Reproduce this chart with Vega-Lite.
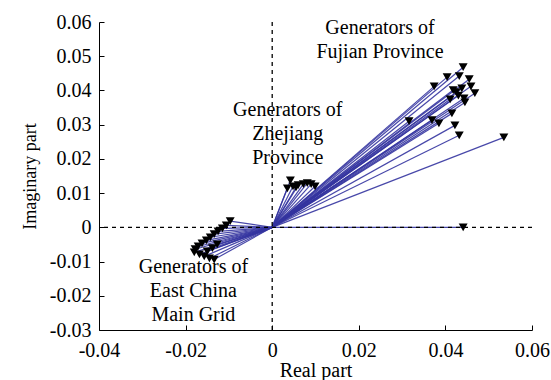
{
  "$schema": "https://vega.github.io/schema/vega-lite/v6.json",
  "width": 433,
  "height": 308,
  "autosize": {"type": "none"},
  "padding": {"left": 99, "top": 22, "right": 19, "bottom": 50},
  "background": "white",
  "config": {
    "view": {"stroke": null},
    "axis": {
      "grid": false,
      "domainColor": "black",
      "tickColor": "black",
      "labelColor": "black",
      "titleColor": "black",
      "labelFont": "Liberation Serif",
      "titleFont": "Liberation Serif",
      "labelFontSize": 20,
      "titleFontSize": 19,
      "titleFontWeight": "normal",
      "tickSize": -5,
      "domainWidth": 1,
      "tickWidth": 1,
      "labelOverlap": false,
      "labelFlush": false
    },
    "axisX": {"titleFontSize": 20, "labelPadding": 15, "titlePadding": 0},
    "axisY": {"titleFontSize": 18, "labelPadding": 13, "titlePadding": 10}
  },
  "datasets": {
    "gens": [
      {"group": "Fujian", "re": 0.0441, "im": 0.0468},
      {"group": "Fujian", "re": 0.0404, "im": 0.0439},
      {"group": "Fujian", "re": 0.0432, "im": 0.0442},
      {"group": "Fujian", "re": 0.0455, "im": 0.0433},
      {"group": "Fujian", "re": 0.0374, "im": 0.0412},
      {"group": "Fujian", "re": 0.0459, "im": 0.0412},
      {"group": "Fujian", "re": 0.0438, "im": 0.0406},
      {"group": "Fujian", "re": 0.0418, "im": 0.0401},
      {"group": "Fujian", "re": 0.0468, "im": 0.0392},
      {"group": "Fujian", "re": 0.0443, "im": 0.0377},
      {"group": "Fujian", "re": 0.0411, "im": 0.0374},
      {"group": "Fujian", "re": 0.0445, "im": 0.0365},
      {"group": "Fujian", "re": 0.0430, "im": 0.0385},
      {"group": "Fujian", "re": 0.0425, "im": 0.0395},
      {"group": "Fujian", "re": 0.0415, "im": 0.0333},
      {"group": "Fujian", "re": 0.0316, "im": 0.0310},
      {"group": "Fujian", "re": 0.0369, "im": 0.0313},
      {"group": "Fujian", "re": 0.0385, "im": 0.0304},
      {"group": "Fujian", "re": 0.0422, "im": 0.0298},
      {"group": "Fujian", "re": 0.0432, "im": 0.0269},
      {"group": "Fujian", "re": 0.0535, "im": 0.0263},
      {"group": "Fujian", "re": 0.0441, "im": 0.0},
      {"group": "Zhejiang", "re": 0.0042, "im": 0.0137},
      {"group": "Zhejiang", "re": 0.0035, "im": 0.0114},
      {"group": "Zhejiang", "re": 0.0048, "im": 0.0120},
      {"group": "Zhejiang", "re": 0.0055, "im": 0.0117},
      {"group": "Zhejiang", "re": 0.0060, "im": 0.0123},
      {"group": "Zhejiang", "re": 0.0072, "im": 0.0126},
      {"group": "Zhejiang", "re": 0.0081, "im": 0.0129},
      {"group": "Zhejiang", "re": 0.0090, "im": 0.0126},
      {"group": "Zhejiang", "re": 0.0099, "im": 0.0120},
      {"group": "EastChina", "re": -0.0097, "im": 0.0018},
      {"group": "EastChina", "re": -0.0106, "im": 0.0006},
      {"group": "EastChina", "re": -0.0115, "im": -0.0003},
      {"group": "EastChina", "re": -0.0125, "im": -0.0012},
      {"group": "EastChina", "re": -0.0134, "im": -0.0020},
      {"group": "EastChina", "re": -0.0143, "im": -0.0029},
      {"group": "EastChina", "re": -0.0152, "im": -0.0038},
      {"group": "EastChina", "re": -0.0162, "im": -0.0047},
      {"group": "EastChina", "re": -0.0171, "im": -0.0056},
      {"group": "EastChina", "re": -0.0178, "im": -0.0064},
      {"group": "EastChina", "re": -0.0180, "im": -0.0073},
      {"group": "EastChina", "re": -0.0168, "im": -0.0079},
      {"group": "EastChina", "re": -0.0157, "im": -0.0085},
      {"group": "EastChina", "re": -0.0145, "im": -0.0091},
      {"group": "EastChina", "re": -0.0134, "im": -0.0094},
      {"group": "EastChina", "re": -0.0150, "im": -0.0070},
      {"group": "EastChina", "re": -0.0138, "im": -0.0061},
      {"group": "EastChina", "re": -0.0127, "im": -0.0050}
    ],
    "notes": [
      {"re": 0.0249, "im": 0.0582, "label": "Generators of\nFujian Province"},
      {"re": 0.0036, "im": 0.0342, "label": "Generators of\nZhejiang\nProvince"},
      {"re": -0.0182, "im": -0.0117, "label": "Generators of\nEast China\nMain Grid"}
    ]
  },
  "layer": [
    {
      "data": {"name": "gens"},
      "mark": {"type": "rule", "color": "#3434a0", "strokeWidth": 1.2, "opacity": 0.9},
      "encoding": {
        "x": {
          "field": "re", "type": "quantitative",
          "scale": {"domain": [-0.04, 0.06], "nice": false, "zero": false},
          "axis": {
            "title": "Real part",
            "values": [-0.04, -0.02, 0, 0.02, 0.04, 0.06],
            "tickCount": 20,
            "labelExpr": "datum.value === 0 ? '0' : replace(format(datum.value, '.2f'), '\u2212', '-')",
            "labelOverlap": false
          }
        },
        "y": {
          "field": "im", "type": "quantitative",
          "scale": {"domain": [-0.03, 0.06], "nice": false, "zero": false},
          "axis": {
            "title": "Imaginary part",
            "values": [-0.03, -0.02, -0.01, 0, 0.01, 0.02, 0.03, 0.04, 0.05, 0.06],
            "tickCount": 20,
            "labelExpr": "datum.value === 0 ? '0' : replace(format(datum.value, '.2f'), '\u2212', '-')",
            "labelOverlap": false
          }
        },
        "x2": {"datum": 0},
        "y2": {"datum": 0}
      }
    },
    {
      "mark": {"type": "rule", "color": "black", "strokeDash": [4, 4], "strokeWidth": 1.3},
      "data": {"values": [{"v": 0}]},
      "encoding": {"y": {"field": "v", "type": "quantitative"}}
    },
    {
      "mark": {"type": "rule", "color": "black", "strokeDash": [4, 4], "strokeWidth": 1.3},
      "data": {"values": [{"v": 0}]},
      "encoding": {"x": {"field": "v", "type": "quantitative"}}
    },
    {
      "data": {"name": "gens"},
      "mark": {"type": "point", "shape": "triangle-down", "filled": true, "color": "black", "opacity": 1, "size": 80},
      "encoding": {
        "x": {"field": "re", "type": "quantitative"},
        "y": {"field": "im", "type": "quantitative"}
      }
    },
    {
      "data": {"name": "notes"},
      "mark": {"type": "text", "font": "Liberation Serif", "fontSize": 20, "color": "black", "lineBreak": "\n", "lineHeight": 24, "align": "center", "baseline": "middle"},
      "encoding": {
        "x": {"field": "re", "type": "quantitative"},
        "y": {"field": "im", "type": "quantitative"},
        "text": {"field": "label"}
      }
    }
  ]
}
